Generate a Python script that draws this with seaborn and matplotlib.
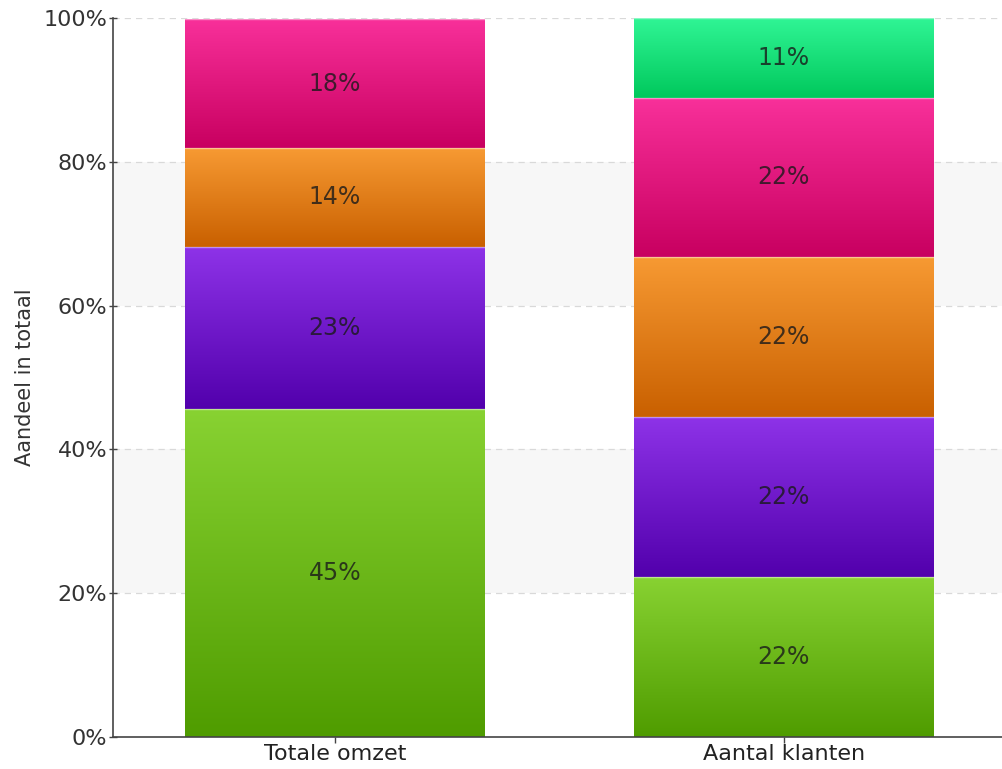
import numpy as np
import pandas as pd
import matplotlib
matplotlib.use("Agg")
import matplotlib.pyplot as plt
import seaborn as sns
from matplotlib.colors import LinearSegmentedColormap

# ---- data ----
categories = ["Totale omzet", "Aantal klanten"]
segments = ["Segment 1", "Segment 2", "Segment 3", "Segment 4", "Segment 5"]  # bottom -> top
totale_omzet = [45.6, 22.6, 13.7, 17.9, 0.0]
aantal_klanten = [22.2, 22.3, 22.3, 22.1, 11.1]
labels_totale = ["45%", "23%", "14%", "18%", ""]
labels_klanten = ["22%", "22%", "22%", "22%", "11%"]
y_ticks = [0, 20, 40, 60, 80, 100]
y_ticklabels = ["0%", "20%", "40%", "60%", "80%", "100%"]

# gradient colours (top, bottom) per segment
seg_colors = [
    ("#88d232", "#4f9c00"),
    ("#8e33e8", "#5200ac"),
    ("#f79a33", "#c96000"),
    ("#f8309a", "#c80060"),
    ("#30f595", "#00c85c"),
]

sns.set_theme(style="white")
plt.rcParams["font.family"] = ["DejaVu Sans"]

values = {categories[0]: totale_omzet, categories[1]: aantal_klanten}
labels = {categories[0]: labels_totale, categories[1]: labels_klanten}

rows = []
for cat in categories:
    cum = np.cumsum(values[cat])
    lows = np.concatenate([[0], cum[:-1]])
    for i, seg in enumerate(segments):
        rows.append(dict(categorie=cat, segment=seg, low=lows[i], high=cum[i],
                         value=values[cat][i], label=labels[cat][i], idx=i))
df = pd.DataFrame(rows)

fig = plt.figure(figsize=(10.03, 7.69), dpi=100)
ax = fig.add_axes([113 / 1003, 32 / 769, 890 / 1003, 719 / 769])

# background bands and grid
for lo, hi in [(20, 40), (60, 80)]:
    ax.axhspan(lo, hi, color="#f7f7f7", zorder=0, lw=0)
for y in y_ticks[1:]:
    ax.axhline(y, color="#d9d9d9", lw=0.9, ls=(0, (5, 4)), zorder=0.5)

bar_width = 0.668
# draw stacked bars top segment first (cumulative heights), lower segments overlap
for i in reversed(range(len(segments))):
    sub = df[df["idx"] == i]
    sns.barplot(data=sub, x="categorie", y="high", order=categories,
                color=seg_colors[i][1], width=bar_width, ax=ax,
                saturation=1, linewidth=0, zorder=1)

# gradient overlay for each segment
for _, r in df.iterrows():
    if r["value"] <= 0:
        continue
    xc = categories.index(r["categorie"])
    top_c, bot_c = seg_colors[r["idx"]]
    cmap = LinearSegmentedColormap.from_list("g", [bot_c, top_c])
    grad = np.linspace(0, 1, 256).reshape(-1, 1)
    ax.imshow(grad, cmap=cmap, origin="lower", aspect="auto",
              extent=(xc - bar_width / 2, xc + bar_width / 2, r["low"], r["high"]),
              zorder=2, interpolation="bicubic")
    ax.plot([xc - bar_width / 2, xc + bar_width / 2], [r["high"], r["high"]],
            color="white", alpha=0.45, lw=1.0, zorder=2.5)
    ax.text(xc, (r["low"] + r["high"]) / 2, r["label"], ha="center", va="center",
            fontsize=17, color="#1a1a1a", alpha=0.8, zorder=3)

ax.set_xlim(-0.494, 1.488)
ax.set_ylim(0, 100)
ax.set_yticks(y_ticks)
ax.set_yticklabels(y_ticklabels, fontsize=16, color="#333333")
ax.set_xticks([0, 1])
ax.set_xticklabels(categories, fontsize=16, color="#222222")
ax.set_xlabel("")
ax.set_ylabel("Aandeel in totaal", fontsize=15, color="#333333", labelpad=6)

for s in ["top", "right"]:
    ax.spines[s].set_visible(False)
for s in ["left", "bottom"]:
    ax.spines[s].set_color("#444444")
    ax.spines[s].set_linewidth(1.2)
ax.tick_params(axis="y", direction="inout", length=6, width=1, color="#444444", pad=1, left=True)
ax.tick_params(axis="x", direction="out", length=4, width=1, color="#444444", pad=1, bottom=True)

fig.savefig("out.png", dpi=100)
